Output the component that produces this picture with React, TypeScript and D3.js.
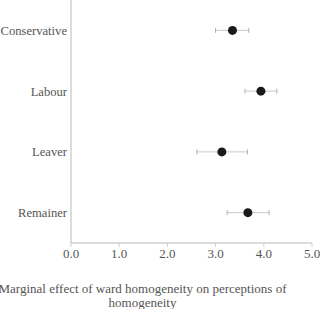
import React from "react";
import * as d3 from "d3";

const categories = ["Conservative", "Labour", "Leaver", "Remainer"];
const estimates = [3.35, 3.94, 3.13, 3.67];
const lowers = [3.0, 3.61, 2.61, 3.24];
const uppers = [3.69, 4.27, 3.66, 4.11];
const xTicks = [0, 1, 2, 3, 4, 5];
const titleLines = ["Marginal effect of ward homogeneity on perceptions of", "homogeneity"];

export default function App() {
  const width = 320;
  const height = 309;
  const left = 71;
  const right = 312;
  const top = 0;
  const bottom = 243;
  const x = d3.scaleLinear().domain([0, 5]).range([left, right]);
  const y = d3.scaleBand<string>().domain(categories).range([top, bottom]);
  const grey = "#555";
  const ts: React.CSSProperties = { fontFamily: "'Liberation Serif', 'Times New Roman', serif", fontSize: 13 };
  const tsLab: React.CSSProperties = { fontFamily: "'Liberation Serif', 'Times New Roman', serif", fontSize: 12.6 };
  return (
    <svg width={width} height={height} style={{ position: "absolute", left: 0, top: 0 }}>
      <rect width={width} height={height} fill="#fff" />
      <line x1={left} x2={left} y1={top} y2={bottom} stroke="#d0d0d0" strokeWidth={1.5} />
      <line x1={left} x2={right} y1={bottom} y2={bottom} stroke="#d0d0d0" strokeWidth={1.5} />
      {xTicks.map((t) => (
        <g key={t}>
          <line x1={x(t)} x2={x(t)} y1={bottom} y2={bottom + 4} stroke="#d0d0d0" strokeWidth={1} />
          <text x={x(t)} y={258} textAnchor="middle" style={ts} fill={grey}>
            {t.toFixed(1)}
          </text>
        </g>
      ))}
      {categories.map((c, i) => {
        const cy = (y(c) as number) + y.bandwidth() / 2;
        return (
          <g key={c}>
            <text x={67} y={cy} dy="0.35em" textAnchor="end" style={tsLab} fill={grey}>
              {c}
            </text>
            <line x1={x(lowers[i])} x2={x(uppers[i])} y1={cy} y2={cy} stroke="#c8c8c8" strokeWidth={1} />
            <line x1={x(lowers[i])} x2={x(lowers[i])} y1={cy - 2.5} y2={cy + 2.5} stroke="#b0b0b0" strokeWidth={1} />
            <line x1={x(uppers[i])} x2={x(uppers[i])} y1={cy - 2.5} y2={cy + 2.5} stroke="#b0b0b0" strokeWidth={1} />
            <circle cx={x(estimates[i])} cy={cy} r={4.5} fill="#1a1a1a" />
          </g>
        );
      })}
      {titleLines.map((l, i) => (
        <text key={i} x={142.5} y={293 + i * 14} textAnchor="middle" style={ts} fill={grey}>
          {l}
        </text>
      ))}
    </svg>
  );
}
